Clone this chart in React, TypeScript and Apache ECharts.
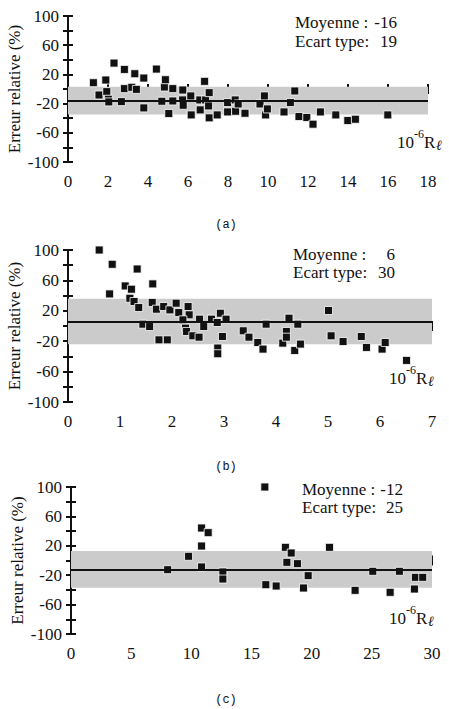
import React, { useEffect, useRef } from "react";
import * as echarts from "echarts";

// Panel (a)
const aX = [1.27,1.55,1.89,1.94,2.02,2.04,2.30,2.67,2.82,2.82,3.19,3.34,3.42,3.79,3.79,4.42,4.69,4.82,4.87,5.04,5.24,5.24,5.74,5.73,5.76,6.14,6.16,6.59,6.61,6.83,6.88,7.03,7.06,7.06,7.46,7.98,7.98,8.36,8.38,8.51,8.85,9.60,9.82,9.88,9.97,10.8,11.12,11.34,11.55,11.94,12.25,12.62,13.39,13.99,14.37,15.99];
const aY = [8.6,-8.2,12.3,-3.6,-14,-17.7,35.5,-17.3,26.8,0.5,2.3,20.9,-0.5,15,-25.9,27.3,-16.8,2.7,12.7,-33.6,0.5,-16.4,-1.4,-15,-22.3,-9.5,-35.5,-15,-28.6,10.5,-15,-23.2,-5,-39.5,-35.5,-31.4,-18.6,-15,-30.5,-20.5,-33.2,-20.5,-9.5,-35.5,-27.3,-31.4,-18.6,-2.7,-37.7,-39,-48.2,-31.4,-35.5,-43.2,-41.4,-35.5];
// Panel (b)
const bX = [0.60,0.80,0.85,1.10,1.22,1.19,1.27,1.33,1.36,1.44,1.57,1.62,1.63,1.70,1.75,1.84,1.91,1.96,2.08,2.13,2.31,2.33,2.21,2.26,2.28,2.40,2.52,2.53,2.61,2.76,2.87,2.88,2.88,2.93,2.97,3.04,3.37,3.48,3.65,3.75,3.81,4.13,4.20,4.20,4.25,4.36,4.42,4.47,5.01,5.06,5.29,5.64,5.74,6.04,6.10,6.51];
const bY = [100,42.2,81.2,52.7,48.4,36.5,32.2,75,24.3,2.4,-0.7,30.9,55.4,22.1,-18.2,25.6,-18.2,21.2,30,17.7,25.6,14.7,8.1,-2.8,-7.2,-12.9,-14.7,9,-0.7,9,4.6,-29,-36.5,16.8,-13.8,9,-6.3,-14.7,-21.7,-30.4,2.4,-22.5,-7.2,-14.7,10.3,-32.2,2.4,-23.8,20.4,-12.9,-20.4,-13.8,-28.2,-30.4,-21.7,-45.3];
// Panel (c)
const cX = [8.03,9.77,10.85,11.40,10.85,10.85,12.62,12.62,16.11,16.19,17.05,17.82,18.30,17.94,18.82,19.71,19.32,21.48,23.61,25.08,26.52,27.29,28.54,28.62,29.23];
const cY = [-12.5,5.7,44.2,37.9,19.7,-8.8,-15.6,-25.2,100,-32.9,-34.7,17.9,10.2,-2.5,-4.3,-20.6,-37.4,17.9,-40.6,-14.7,-43.3,-14.7,-38.8,-22.9,-22.9];

const means = [-16, 6, -12];
const stds = [19, 30, 25];
const xMaxes = [18, 7, 30];
const xIntervals = [2, 1, 5];
const captions = ["(a)", "(b)", "(c)"];
const yMin = -100;
const yMax = 100;
const yInterval = 20;

const serif = '"Liberation Serif", "Times New Roman", serif';
const mono = '"Liberation Mono", "DejaVu Sans Mono", monospace';
const ink = "#111";

const grids = [
  { left: 68, top: 16, width: 360, height: 146, outerBoundsMode: "none", containLabel: false },
  { left: 68, top: 250, width: 364, height: 152, outerBoundsMode: "none", containLabel: false },
  { left: 71, top: 487, width: 361, height: 147, outerBoundsMode: "none", containLabel: false },
];

export default function App() {
  const ref = useRef<HTMLDivElement>(null);
  useEffect(() => {
    if (!ref.current) return;
    const chart = echarts.init(ref.current, undefined, { renderer: "svg" });
    const xs = [aX, bX, cX];
    const ys = [aY, bY, cY];
    const xAxis: any[] = [];
    const yAxis: any[] = [];
    const series: any[] = [];
    const graphic: any[] = [];
    const statPos = [
      { l: 295, r: 397, t1: 14, t2: 33 },
      { l: 293, r: 395, t1: 246, t2: 264 },
      { l: 302, r: 403, t1: 481, t2: 499 },
    ];
    const unitPos = [
      { x: 397, y: 134 },
      { x: 389, y: 370 },
      { x: 389, y: 610 },
    ];
    const capPos = [
      { x: 226, y: 225 },
      { x: 226, y: 467 },
      { x: 226, y: 700 },
    ];
    for (let i = 0; i < 3; i++) {
      const common = {
        type: "value",
        gridIndex: i,
        min: 0,
        max: xMaxes[i],
        interval: xIntervals[i],
        position: "bottom",
        splitLine: { show: false },
      };
      xAxis.push({
        ...common,
        axisLine: { show: true, lineStyle: { color: ink, width: 2 } },
        axisTick: { show: true, length: 5, lineStyle: { color: ink, width: 2 } },
        axisLabel: { fontFamily: serif, fontSize: 17, color: ink, margin: 11 },
      });
      xAxis.push({
        ...common,
        axisLine: { show: false },
        axisTick: { show: true, inside: true, length: 5, lineStyle: { color: ink, width: 2 } },
        axisLabel: { show: false },
      });
      const ycommon = {
        type: "value",
        gridIndex: i,
        min: yMin,
        max: yMax,
        interval: yInterval,
        position: "left",
        splitLine: { show: false },
      };
      yAxis.push({
        ...ycommon,
        name: "Erreur relative (%)",
        nameLocation: "middle",
        nameRotate: 90,
        nameGap: 45,
        nameMoveOverlap: false,
        nameTextStyle: { fontFamily: serif, fontSize: 17, color: ink },
        axisLine: { show: true, lineStyle: { color: ink, width: 2 } },
        axisTick: { show: true, length: 5, lineStyle: { color: ink, width: 2 } },
        axisLabel: {
          fontFamily: serif,
          fontSize: 17,
          color: ink,
          margin: 9,
          formatter: (v: number) => ((v - yMin) % 40 === 0 ? String(v) : ""),
        },
      });
      yAxis.push({
        ...ycommon,
        axisLine: { show: false },
        axisTick: { show: true, inside: true, length: 5, lineStyle: { color: ink, width: 2 } },
        axisLabel: { show: false },
      });
      series.push({
        type: "scatter",
        xAxisIndex: 2 * i,
        yAxisIndex: 2 * i,
        clip: false,
        symbol: "rect",
        symbolSize: 8,
        itemStyle: { color: ink, borderColor: "#fff", borderWidth: 0.8, opacity: 1 },
        data: xs[i].map((x, k) => [x, ys[i][k]]),
        markArea: {
          silent: true,
          itemStyle: { color: "#cbcbcb" },
          data: [[{ yAxis: means[i] - stds[i] }, { yAxis: means[i] + stds[i] }]],
        },
        markLine: {
          silent: true,
          symbol: ["none", "none"],
          label: { show: false },
          lineStyle: { color: ink, width: 2, type: "solid" },
          data: [{ yAxis: means[i] }],
        },
      });
      const sp = statPos[i];
      const font = { fontFamily: serif, fontSize: 17, fill: ink, verticalAlign: "top" };
      graphic.push(
        { type: "text", x: sp.l, y: sp.t1, style: { ...font, text: "Moyenne :", align: "left" } },
        { type: "text", x: sp.r, y: sp.t1, style: { ...font, text: String(means[i]), align: "right" } },
        { type: "text", x: sp.l, y: sp.t2, style: { ...font, text: "Ecart type:", align: "left" } },
        { type: "text", x: sp.r, y: sp.t2, style: { ...font, text: String(stds[i]), align: "right" } }
      );
      const up = unitPos[i];
      graphic.push(
        { type: "text", x: up.x, y: up.y, style: { ...font, text: "10", align: "left" } },
        { type: "text", x: up.x + 17, y: up.y - 6, style: { ...font, fontSize: 12, text: "-6", align: "left" } },
        { type: "text", x: up.x + 27, y: up.y, style: { ...font, text: "R", align: "left" } },
        { type: "text", x: up.x + 39, y: up.y + 4, style: { ...font, fontSize: 14, fontStyle: "italic", text: "ℓ", align: "left" } }
      );
      const cp = capPos[i];
      graphic.push({
        type: "text",
        x: cp.x,
        y: cp.y,
        style: { fontFamily: mono, fontSize: 12, fill: ink, text: captions[i], align: "center", verticalAlign: "middle" },
      });
    }
    chart.setOption({
      animation: false,
      backgroundColor: "#fff",
      grid: grids,
      xAxis,
      yAxis,
      series,
      graphic,
    });
    return () => chart.dispose();
  }, []);
  return (
    <div
      ref={ref}
      style={{ position: "absolute", left: 0, top: 0, width: 449, height: 709 }}
    />
  );
}
